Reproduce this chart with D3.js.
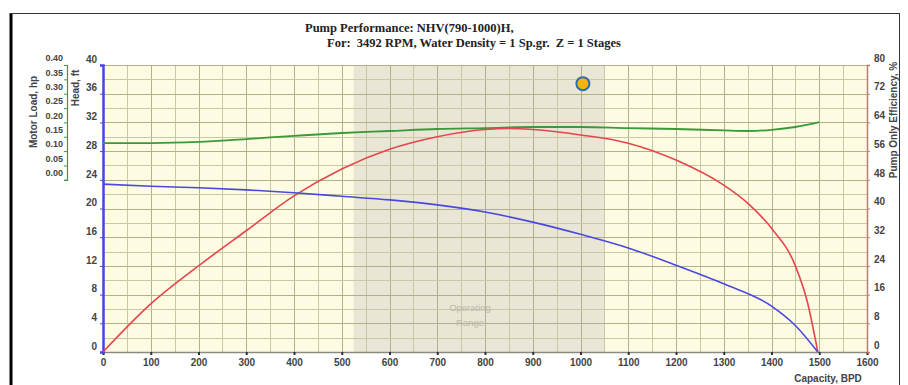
<!DOCTYPE html>
<html><head><meta charset="utf-8">
<script src="https://cdn.jsdelivr.net/npm/d3@7"></script>
<style>body{margin:0;background:#fff;} svg{display:block;}</style>
</head><body>
<svg id="c" width="908" height="385"></svg>
<script>
// ---- data ----
const headCapacity = [0,100,200,300,400,500,600,700,800,900,1000,1100,1200,1300,1400,1450,1497];
const headFt       = [23.4,23.1,22.9,22.6,22.2,21.7,21.2,20.5,19.5,18.1,16.4,14.5,12.1,9.5,6.4,3.7,0];
const effCapacity  = [0,100,200,300,400,500,600,700,800,850,900,1000,1100,1200,1300,1350,1400,1450,1475,1497];
const efficiency   = [0,13.4,24,33.8,43.5,51,56.5,60,62,62.3,62,60.5,58.2,53.5,46.5,41.5,34.5,24,14,0];
const loadCapacity = [0,100,200,300,400,500,600,700,800,900,1000,1100,1200,1300,1350,1400,1450,1500];
const motorLoad    = [0.128,0.128,0.132,0.142,0.153,0.163,0.170,0.177,0.180,0.184,0.184,0.180,0.177,0.172,0.170,0.174,0.184,0.201];
const capTicks  = [0,100,200,300,400,500,600,700,800,900,1000,1100,1200,1300,1400,1500,1600];
const headTicks = [0,4,8,12,16,20,24,28,32,36,40];
const effTicks  = [0,8,16,24,32,40,48,56,64,72,80];
const loadTicks = [0,0.05,0.10,0.15,0.20,0.25,0.30,0.35,0.40];
const operatingRange = [525, 1050];
const markerPoint = [1005, 37.4];
const titleLine1 = "Pump Performance: NHV(790-1000)H,";
const titleLine2 = "For:  3492 RPM, Water Density = 1 Sp.gr.  Z = 1 Stages";

// ---- scales ----
const svg = d3.select("#c");
const L = 103, R = 867, T = 65, B = 352;
const x  = d3.scaleLinear([0,1600],[L,R]);
const yH = d3.scaleLinear([0,40],[B,T]);
const yE = d3.scaleLinear([0,80],[B,T]);
const yL = d3.scaleLinear([0,0.4],[yH(24),T]);

// frame
svg.append("line").attr("x1",11).attr("x2",11).attr("y1",13).attr("y2",385).attr("stroke","#000").attr("stroke-width",3);
svg.append("line").attr("x1",10).attr("x2",900).attr("y1",13.5).attr("y2",13.5).attr("stroke","#333").attr("stroke-width",1);
svg.append("line").attr("x1",899.5).attr("x2",899.5).attr("y1",13).attr("y2",385).attr("stroke","#333").attr("stroke-width",1);

// plot background
svg.append("rect").attr("x",L).attr("y",T).attr("width",R-L).attr("height",B-T).attr("fill","#fdfbe1");
svg.append("rect").attr("x",x(operatingRange[0])).attr("y",T).attr("width",x(operatingRange[1])-x(operatingRange[0])).attr("height",B-T).attr("fill","#e9e6d6");

// grid
const g = svg.append("g");
g.selectAll(".v").data(d3.range(50,1600,50)).join("line")
  .attr("x1",d=>Math.round(x(d))+0.5).attr("x2",d=>Math.round(x(d))+0.5).attr("y1",T).attr("y2",B)
  .attr("stroke",d=>d%100===0?"#b2b08a":"#c9c7a4").attr("stroke-width",1);
g.selectAll(".h").data(d3.range(2,41,2)).join("line")
  .attr("x1",L).attr("x2",R).attr("y1",d=>Math.round(yH(d))+0.5).attr("y2",d=>Math.round(yH(d))+0.5)
  .attr("stroke",d=>d%4===0?"#b2b08a":"#c9c7a4").attr("stroke-width",1);

// operating range label
const opX = (x(operatingRange[0])+x(operatingRange[1]))/2 - 9;
svg.append("text").attr("x",opX).attr("y",311)
  .attr("text-anchor","middle").attr("font-family","Liberation Sans").attr("font-size",9.5).attr("fill","#bcb8ab").text("Operating");
svg.append("text").attr("x",opX).attr("y",326)
  .attr("text-anchor","middle").attr("font-family","Liberation Sans").attr("font-size",9.5).attr("fill","#bcb8ab").text("Range");

// axes
function styleAxis(sel, domainColor, width){
  sel.select(".domain").attr("stroke",domainColor).attr("stroke-width",width);
  sel.selectAll(".tick line").attr("stroke",domainColor);
  sel.selectAll(".tick text").attr("font-family","Liberation Sans").attr("font-size",10).attr("font-weight","bold").attr("fill","#444");
}
const ax = svg.append("g").attr("transform",`translate(0,${B})`)
  .call(d3.axisBottom(x).tickValues(capTicks).tickSize(3).tickFormat(d3.format("d")));
styleAxis(ax,"#8a8a80",1.5);
ax.selectAll(".tick line").attr("stroke","#333").attr("stroke-width",2);
ax.selectAll(".tick text").attr("y",7);

const ah = svg.append("g").attr("transform",`translate(${L},0)`)
  .call(d3.axisLeft(yH).tickValues(headTicks).tickSize(3).tickFormat(d3.format("d")));
styleAxis(ah,"#4646e0",2.5);
ah.selectAll(".tick text").attr("y",-6).attr("x",-6);

const ae = svg.append("g").attr("transform",`translate(${R},0)`)
  .call(d3.axisRight(yE).tickValues(effTicks).tickSize(3).tickFormat(d3.format("d")));
styleAxis(ae,"#e06a70",1.5);
ae.selectAll(".tick text").attr("y",-7).attr("x",7);

const al = svg.append("g").attr("transform",`translate(67,0)`)
  .call(d3.axisLeft(yL).tickValues(loadTicks).tickSize(3).tickFormat(d3.format(".2f")));
styleAxis(al,"#3a9a4a",1.2);
al.selectAll(".tick text").attr("y",-7).attr("x",-4).attr("font-size",9);

// axis titles
const tf = {"font-family":"Liberation Sans","font-size":10,"font-weight":"bold","fill":"#444"};
function title(txt,xx,yy,rot){
  const t = svg.append("text").attr("transform",`translate(${xx},${yy}) rotate(${rot})`).attr("text-anchor","middle").text(txt);
  for (const k in tf) t.attr(k,tf[k]);
}
title("Motor Load, hp",37,112,-90);
title("Head, ft",79,88,-90);
title("Pump Only Efficiency, %",897,120,-90);
title("Capacity, BPD",828,382,0);

// chart title
svg.append("text").attr("x",305).attr("y",32).attr("font-family","Liberation Serif").attr("font-weight","bold").attr("font-size",12.5).attr("fill","#222").style("white-space","pre").text(titleLine1);
svg.append("text").attr("x",327).attr("y",47).attr("font-family","Liberation Serif").attr("font-weight","bold").attr("font-size",12.5).attr("fill","#222").style("white-space","pre").text(titleLine2);

// curves
const lineOf = (xs,ys,ysc)=> d3.line().x((d,i)=>x(xs[i])).y((d,i)=>ysc(ys[i])).curve(d3.curveMonotoneX)(xs);
svg.append("path").attr("d",lineOf(loadCapacity,motorLoad,yL)).attr("fill","none").attr("stroke","#3a9a3a").attr("stroke-width",1.8);
svg.append("path").attr("d",lineOf(effCapacity,efficiency,yE)).attr("fill","none").attr("stroke","#e5454c").attr("stroke-width",1.6);
svg.append("path").attr("d",lineOf(headCapacity,headFt,yH)).attr("fill","none").attr("stroke","#4a48e0").attr("stroke-width",1.6);

// marker
svg.append("circle").attr("cx",x(markerPoint[0])).attr("cy",yH(markerPoint[1])).attr("r",6.5)
  .attr("fill","#f7b500").attr("stroke","#2f6cb2").attr("stroke-width",2);
</script>
</body></html>
